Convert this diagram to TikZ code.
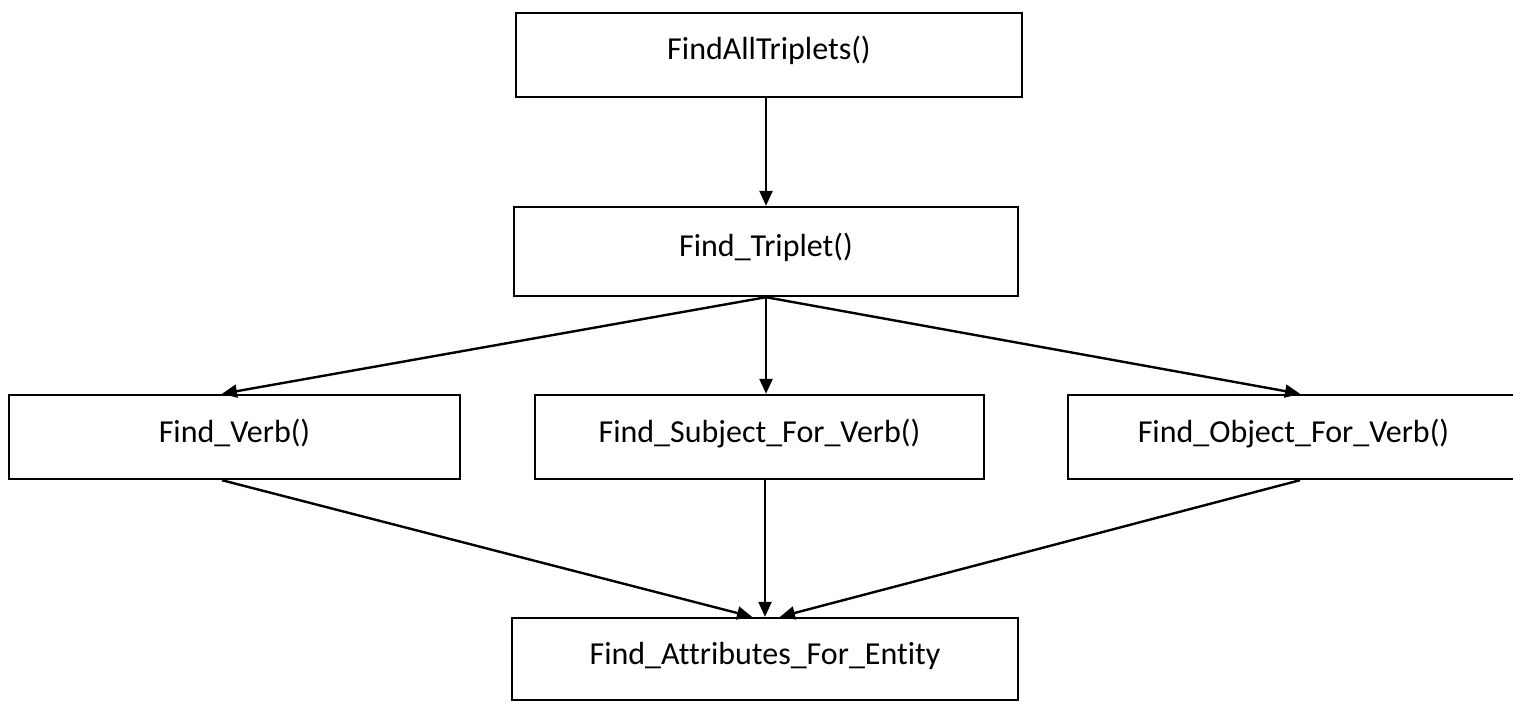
\documentclass[tikz,border=0pt]{standalone}
\usepackage{fontspec}
\setmainfont[Ligatures={NoCommon}]{Carlito}
\usetikzlibrary{arrows.meta}

\tikzset{
  funcbox/.style={draw=black, line width=1.2pt, rectangle, inner sep=0pt,
    font=\fontsize{16pt}{19pt}\selectfont, text height=0.7em, text depth=0.2em},
  flow/.style={draw=black, line width=1.2pt,
    -{Triangle[length=7.5pt,width=6.5pt]}}
}

\begin{document}
\begin{tikzpicture}[x=0.5pt, y=-0.5pt]
  \useasboundingbox (0,0) rectangle (1513,701);
  \clip (0,0) rectangle (1513,701);

  % call hierarchy
  \node[funcbox, minimum width=253pt, minimum height=42pt] (all) at (769,55) {FindAllTriplets()};
  \node[funcbox, minimum width=252pt, minimum height=44.5pt] (trip) at (766,251.5) {Find\_Triplet()};
  \node[funcbox, minimum width=225.5pt, minimum height=42pt] (verb) at (234.5,437) {Find\_Verb()};
  \node[funcbox, minimum width=224.5pt, minimum height=42pt] (subj) at (759.5,437) {Find\_Subject\_For\_Verb()};
  \node[funcbox, minimum width=225.5pt, minimum height=42pt] (obj) at (1293.5,437) {Find\_Object\_For\_Verb()};
  \node[funcbox, minimum width=253pt, minimum height=41pt] (attr) at (765,659) {Find\_Attributes\_For\_Entity};

  % calls
  \draw[flow] (trip.north |- all.south) -- (trip.north);
  \draw[flow] (trip.south) -- ([xshift=-6.25pt]verb.north);
  \draw[flow] (trip.south) -- (trip.south |- subj.north);
  \draw[flow] (trip.south) -- ([xshift=3.25pt]obj.north);

  \draw[flow] ([xshift=-6.25pt]verb.south) -- ([xshift=-6.5pt]attr.north);
  \draw[flow] (attr.north |- subj.south) -- (attr.north);
  \draw[flow] ([xshift=3.25pt]obj.south) -- ([xshift=7.5pt]attr.north);
\end{tikzpicture}
\end{document}
